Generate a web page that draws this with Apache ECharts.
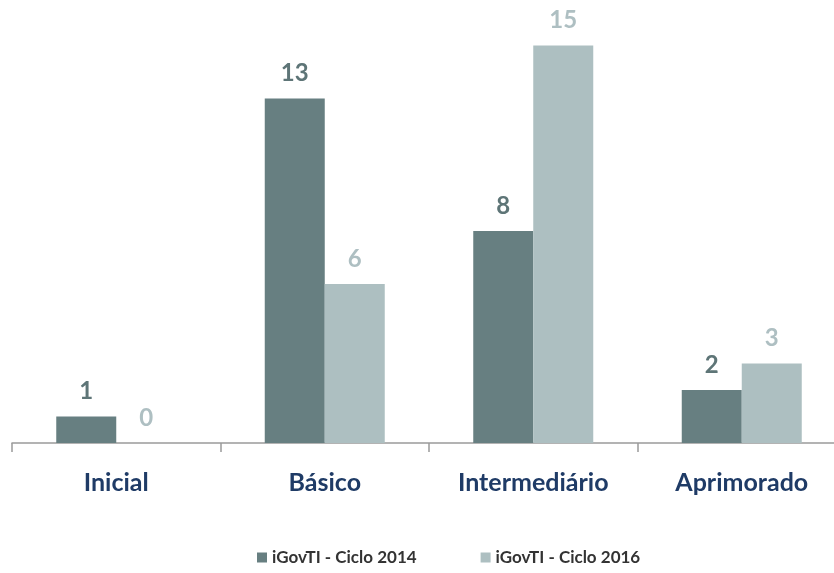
<!DOCTYPE html>
<html>
<head>
<meta charset="utf-8">
<script src="https://cdn.jsdelivr.net/npm/echarts@6/dist/echarts.min.js"></script>
<style>
  html, body { margin: 0; padding: 0; background: #fff; overflow: hidden; width: 834px; height: 573px; }
  /* the axis runs past the right edge in the original, so the canvas is a bit wider */
  #chart { width: 846px; height: 573px; }
</style>
</head>
<body>
<div id="chart"></div>
<script>
var categories = ["Inicial", "Básico", "Intermediário", "Aprimorado"];
var ciclo2014 = [1, 13, 8, 2];
var ciclo2016 = [0, 6, 15, 3];
var seriesNames = ["iGovTI - Ciclo 2014", "iGovTI - Ciclo 2016"];

var font = "Lato, 'Open Sans', sans-serif";
var chart = echarts.init(document.getElementById("chart"));

var option = {
    animation: false,
    grid: { left: 12, right: 0, top: 19, bottom: 130 },
    legend: {
        bottom: 2,
        left: 252,
        itemWidth: 10,
        itemHeight: 10,
        itemGap: 64,
        icon: "rect",
        textStyle: { fontFamily: font, fontWeight: "bold", fontSize: 17, color: "#333" },
        data: seriesNames
    },
    xAxis: {
        type: "category",
        data: categories,
        axisLine: { lineStyle: { color: "#9a9a9a", width: 1.5 } },
        axisTick: { show: true, length: 9, lineStyle: { color: "#9a9a9a", width: 1.5 } },
        axisLabel: {
            margin: 27,
            fontFamily: font,
            fontWeight: "bold",
            fontSize: 25,
            color: "#1f3b66"
        }
    },
    yAxis: {
        type: "value",
        min: 0,
        max: 16,
        show: false,
        splitLine: { show: false }
    },
    series: [
        {
            name: seriesNames[0],
            type: "bar",
            data: ciclo2014,
            barWidth: 60,
            barGap: "0%",
            itemStyle: { color: "#677f81" },
            label: {
                show: true,
                position: "top",
                distance: 13,
                fontFamily: font,
                fontWeight: "bold",
                fontSize: 24,
                color: "#5e7577"
            }
        },
        {
            name: seriesNames[1],
            type: "bar",
            data: ciclo2016,
            barWidth: 60,
            itemStyle: { color: "#adbfc1" },
            label: {
                show: true,
                position: "top",
                distance: 13,
                fontFamily: font,
                fontWeight: "bold",
                fontSize: 24,
                color: "#aebfc2"
            }
        }
    ]
};

chart.setOption(option);
</script>
</body>
</html>
